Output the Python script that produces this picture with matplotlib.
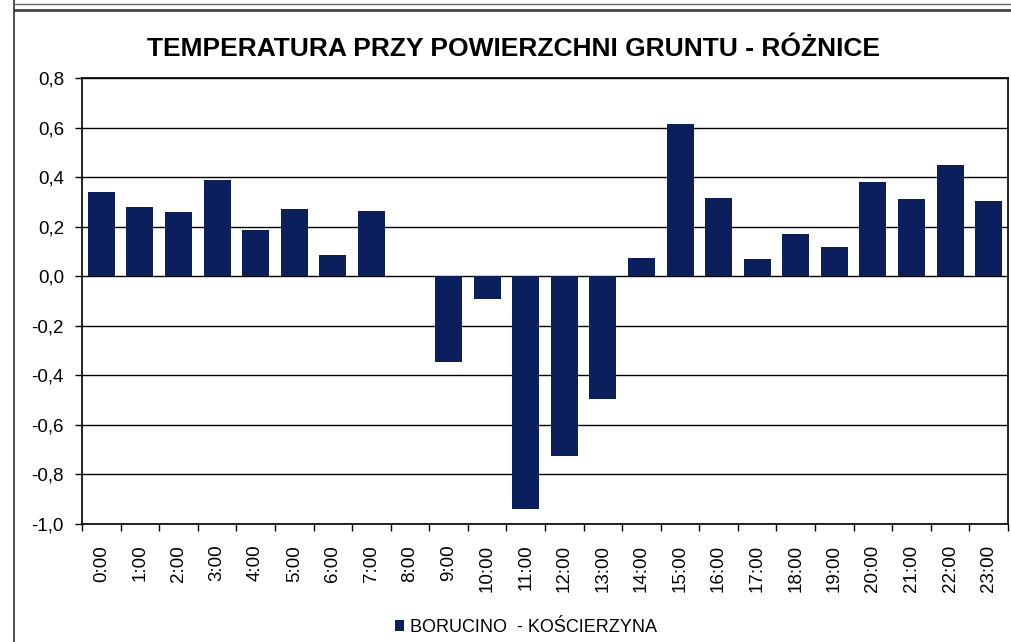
import matplotlib.pyplot as plt
from matplotlib.lines import Line2D
from matplotlib.ticker import FuncFormatter, FixedLocator

hours = [f"{h}:00" for h in range(24)]
diffs = [0.34, 0.28, 0.26, 0.39, 0.185, 0.27, 0.085, 0.265, 0.0, -0.345,
         -0.09, -0.94, -0.725, -0.495, 0.073, 0.615, 0.315, 0.068, 0.17, 0.118,
         0.38, 0.31, 0.447, 0.303]
series_name = "BORUCINO  - KOŚCIERZYNA"
title = "TEMPERATURA PRZY POWIERZCHNI GRUNTU - RÓŻNICE"

plt.rcParams['font.family'] = ['Liberation Sans', 'DejaVu Sans']

fig = plt.figure(figsize=(10.11, 6.42), dpi=100)
ax = fig.add_axes([82 / 1011, 1 - 524 / 642, (1008 - 82) / 1011, (524 - 78) / 642])

x = list(range(len(hours)))
ax.bar(x, diffs, width=0.7, color='#0a1f5c', label=series_name, zorder=3)

ax.set_xlim(-0.5, len(hours) - 0.5)
ax.set_ylim(-1.0, 0.8)
ax.set_yticks([-1.0 + 0.2 * i for i in range(10)])
ax.yaxis.set_major_formatter(FuncFormatter(lambda v, p: f"{v:.1f}".replace('.', ',').replace('-0,0', '0,0')))
ax.yaxis.grid(True, color='black', linewidth=1, zorder=0)

ax.set_xticks(x)
ax.set_xticklabels(hours, rotation=90)
ax.xaxis.set_minor_locator(FixedLocator([i - 0.5 for i in range(len(hours) + 1)]))
ax.tick_params(axis='x', which='major', length=0, pad=15, labelsize=13.5)
ax.tick_params(axis='x', which='minor', length=5, width=1, direction='out')
ax.tick_params(axis='y', length=5, width=1, pad=8, labelsize=13.5)

for s in ax.spines.values():
    s.set_color('black')
    s.set_linewidth(1.2)

fig.text(0.508, 1 - 49 / 642, title, ha='center', va='center', fontsize=19, fontweight='bold')

fig.legend(loc='center', bbox_to_anchor=(0.52, 1 - 627 / 642), frameon=False, fontsize=13,
           handlelength=0.55, handleheight=0.55, handletextpad=0.3)

# outer chart frame
fig.add_artist(Line2D([14 / 1011, 14 / 1011], [0, 1], transform=fig.transFigure, color='#333333', lw=1.2))
fig.add_artist(Line2D([14 / 1011, 1], [1 - 10 / 642] * 2, transform=fig.transFigure, color='#444444', lw=2))
fig.add_artist(Line2D([14 / 1011, 1], [1 - 4 / 642] * 2, transform=fig.transFigure, color='#666666', lw=1))

fig.savefig('out.png', dpi=100)
